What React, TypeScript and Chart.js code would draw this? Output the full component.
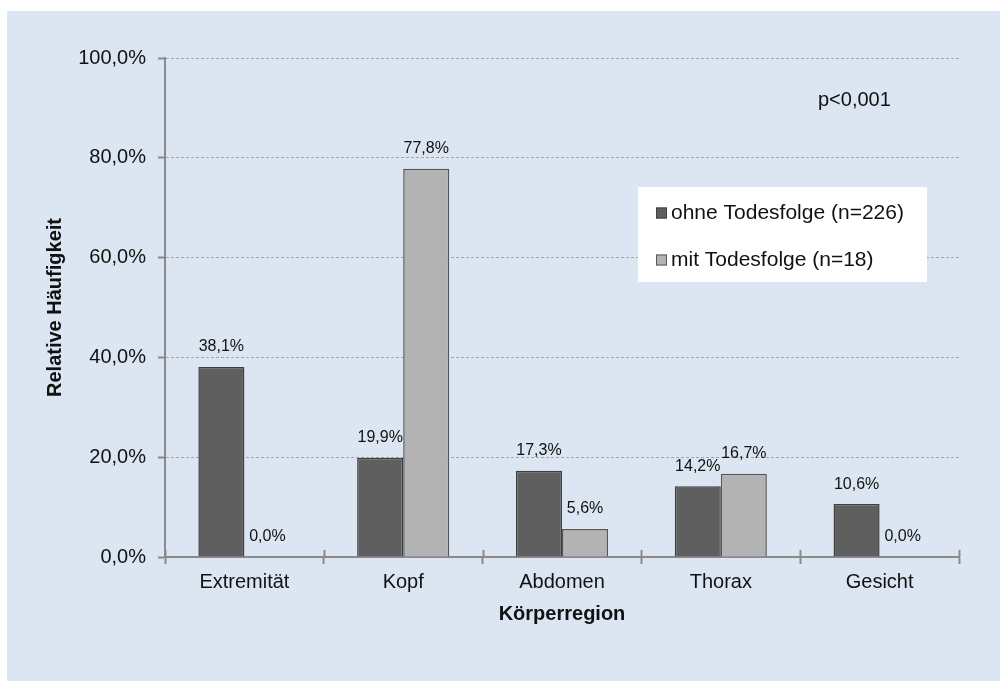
import React, { useEffect, useRef } from "react";
import { Chart, registerables } from "chart.js";

Chart.register(...registerables);

const categories = ["Extremität", "Kopf", "Abdomen", "Thorax", "Gesicht"];
const ohneTodesfolge = [38.1, 19.9, 17.3, 14.2, 10.6];
const mitTodesfolge = [0.0, 77.8, 5.6, 16.7, 0.0];
const seriesLabels = ["ohne Todesfolge (n=226)", "mit Todesfolge (n=18)"];
const yTicks = [0, 20, 40, 60, 80, 100];
const pText = "p<0,001";
const xTitle = "Körperregion";
const yTitle = "Relative Häufigkeit";

const FONT = "'Liberation Sans', Arial, sans-serif";
const DARK = "#5f5f5f";
const DARK_BORDER = "#3f3f3f";
const LIGHT = "#b3b3b3";
const LIGHT_BORDER = "#575757";
const AXIS = "#8a8a8a";
const BG = "#dce6f2";

const fmt = (v: number) => v.toFixed(1).replace(".", ",") + "%";

const decorPlugin = {
  id: "decor",
  beforeDraw(chart: any) {
    const ctx = chart.ctx;
    ctx.save();
    ctx.fillStyle = "#ffffff";
    ctx.fillRect(0, 0, chart.width, chart.height);
    ctx.fillStyle = BG;
    ctx.fillRect(7, 11, chart.width - 7, chart.height - 11);
    ctx.restore();
  },
  afterDatasetsDraw(chart: any) {
    const ctx = chart.ctx;
    const area = chart.chartArea;
    const xs = chart.scales.x;
    ctx.save();
    // inward parts of x tick marks
    ctx.strokeStyle = AXIS;
    ctx.lineWidth = 2;
    const n = categories.length;
    for (let i = 0; i <= n; i++) {
      const px = Math.round(xs.left + (i * (xs.right - xs.left)) / n) + 0.5;
      ctx.beginPath();
      ctx.moveTo(px, area.bottom - 7);
      ctx.lineTo(px, area.bottom);
      ctx.stroke();
    }
    // data labels
    ctx.fillStyle = "#111111";
    ctx.font = `16px ${FONT}`;
    ctx.textAlign = "center";
    ctx.textBaseline = "middle";
    chart.data.datasets.forEach((ds: any, di: number) => {
      const meta = chart.getDatasetMeta(di);
      meta.data.forEach((bar: any, j: number) => {
        ctx.fillText(fmt(ds.data[j]), bar.x, bar.y - 20);
      });
    });
    // p value
    ctx.font = `20px ${FONT}`;
    ctx.textAlign = "left";
    ctx.fillStyle = "#111111";
    ctx.fillText(pText, 818, 100);
    // legend box
    ctx.fillStyle = "#ffffff";
    ctx.fillRect(638, 187, 289, 95);
    const colors = [
      [DARK, DARK_BORDER],
      [LIGHT, LIGHT_BORDER],
    ];
    const ys = [213, 260];
    seriesLabels.forEach((lab, i) => {
      ctx.fillStyle = colors[i][0];
      ctx.fillRect(656, ys[i] - 5.5, 11, 11);
      ctx.strokeStyle = colors[i][1];
      ctx.lineWidth = 1;
      ctx.strokeRect(656.5, ys[i] - 5, 10, 10);
      ctx.fillStyle = "#111111";
      ctx.font = `21px ${FONT}`;
      ctx.textAlign = "left";
      ctx.textBaseline = "middle";
      ctx.fillText(lab, 671, ys[i]);
    });
    // axis titles
    ctx.font = `bold 20px ${FONT}`;
    ctx.fillStyle = "#111111";
    ctx.textAlign = "center";
    ctx.fillText(xTitle, (area.left + area.right) / 2, 614);
    ctx.translate(55, (area.top + area.bottom) / 2);
    ctx.rotate(-Math.PI / 2);
    ctx.fillText(yTitle, 0, 0);
    ctx.restore();
  },
};

export default function App() {
  const ref = useRef<HTMLCanvasElement | null>(null);
  useEffect(() => {
    if (!ref.current) return;
    const chart = new Chart(ref.current, {
      type: "bar",
      data: {
        labels: categories,
        datasets: [
          {
            label: seriesLabels[0],
            data: ohneTodesfolge,
            backgroundColor: DARK,
            borderColor: DARK_BORDER,
            borderWidth: 1.5,
            barPercentage: 1,
            categoryPercentage: 0.58,
          },
          {
            label: seriesLabels[1],
            data: mitTodesfolge,
            backgroundColor: LIGHT,
            borderColor: LIGHT_BORDER,
            borderWidth: 1.5,
            barPercentage: 1,
            categoryPercentage: 0.58,
          },
        ],
      },
      options: {
        responsive: false,
        animation: false,
        devicePixelRatio: 1,
        layout: { padding: { left: 0, top: 58, right: 41, bottom: 0 } },
        plugins: {
          legend: { display: false },
          tooltip: { enabled: false },
          title: { display: false },
        },
        scales: {
          x: {
            offset: true,
            grid: {
              offset: true,
              drawOnChartArea: false,
              drawTicks: true,
              tickLength: 7,
              tickColor: AXIS,
              tickWidth: 2,
            },
            border: { display: true, color: AXIS, width: 2 },
            ticks: {
              color: "#111111",
              font: { family: FONT, size: 20 },
              padding: 6,
            },
            afterFit: (s: any) => {
              s.height = 681 - 557;
            },
          },
          y: {
            min: 0,
            max: 100,
            afterBuildTicks: (s: any) => {
              s.ticks = yTicks.map((v) => ({ value: v }));
            },
            grid: {
              color: "#a3a3a3",
              lineWidth: 1,
              drawTicks: true,
              tickLength: 7,
              tickColor: AXIS,
              tickWidth: 2,
              tickBorderDash: [],
            },
            border: { display: true, color: AXIS, width: 2, dash: [3, 2] },
            ticks: {
              color: "#111111",
              font: { family: FONT, size: 20 },
              padding: 12,
              callback: (v: any) => fmt(Number(v)),
            },
            afterFit: (s: any) => {
              s.width = 165;
            },
          },
        },
      },
      plugins: [decorPlugin],
    });
    return () => chart.destroy();
  }, []);
  return (
    <div style={{ position: "fixed", left: 0, top: 0, width: 1000, height: 681 }}>
      <canvas ref={ref} width={1000} height={681} style={{ width: 1000, height: 681, display: "block" }} />
    </div>
  );
}
